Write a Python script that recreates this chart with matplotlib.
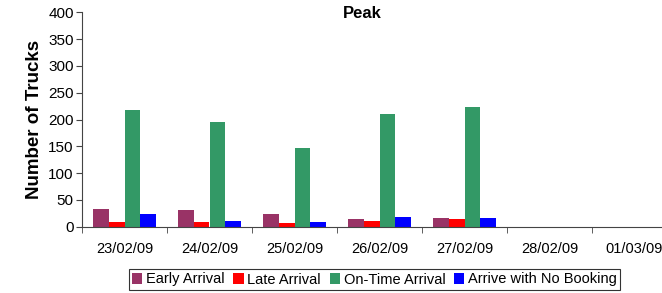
import numpy as np
import matplotlib.pyplot as plt

plt.rcParams['font.family'] = ['Liberation Sans', 'DejaVu Sans']

dates = ['23/02/09', '24/02/09', '25/02/09', '26/02/09', '27/02/09', '28/02/09', '01/03/09']
early = [33, 31, 24, 14, 16, 0, 0]
late = [9, 9, 7, 11, 14, 0, 0]
on_time = [218, 195, 147, 210, 223, 0, 0]
no_booking = [24, 11, 9, 18, 16, 0, 0]

series = [
    ('Early Arrival', early, '#993366'),
    ('Late Arrival', late, '#FF0000'),
    ('On-Time Arrival', on_time, '#339966'),
    ('Arrive with No Booking', no_booking, '#0000FF'),
]

fig = plt.figure(figsize=(6.62, 2.93), dpi=100)
ax = fig.add_axes([82 / 662, 66.3 / 293, 595 / 662, 214.4 / 293])

x = np.arange(len(dates))
w = 0.185
for i, (name, vals, col) in enumerate(series):
    ax.bar(x + (i - 1.5) * w, vals, w, color=col, label=name)

ax.set_xlim(-0.5, len(dates) - 0.5)
ax.set_ylim(0, 400)
ax.set_yticks(range(0, 401, 50))
ax.set_xticks(x)
ax.set_xticklabels(dates)
ax.set_xticks(np.arange(-0.5, len(dates), 1), minor=True)
ax.tick_params(axis='x', which='major', length=0, pad=11, labelsize=10.5)
ax.tick_params(axis='x', which='minor', length=4, direction='out', color='#444444')
ax.tick_params(axis='y', length=4, direction='out', labelsize=11, color='#444444', pad=2)

for s in ['top', 'right']:
    ax.spines[s].set_visible(False)
for s in ['left', 'bottom']:
    ax.spines[s].set_color('#444444')

ax.set_ylabel('Number of Trucks', fontsize=13.5, fontweight='bold', labelpad=4)
fig.text(362 / 662, 1 - 14 / 293, 'Peak', ha='center', va='center', fontsize=12, fontweight='bold')

leg = fig.legend(loc='center', bbox_to_anchor=(374.5 / 662, 1 - 279.5 / 293), ncol=4,
                 fontsize=10.5, frameon=True, fancybox=False, edgecolor='black',
                 handlelength=0.7, handleheight=0.7, handletextpad=0.25, columnspacing=0.6,
                 borderpad=0.25, borderaxespad=0)
leg.get_frame().set_linewidth(0.8)

fig.savefig('out.png', dpi=100)
